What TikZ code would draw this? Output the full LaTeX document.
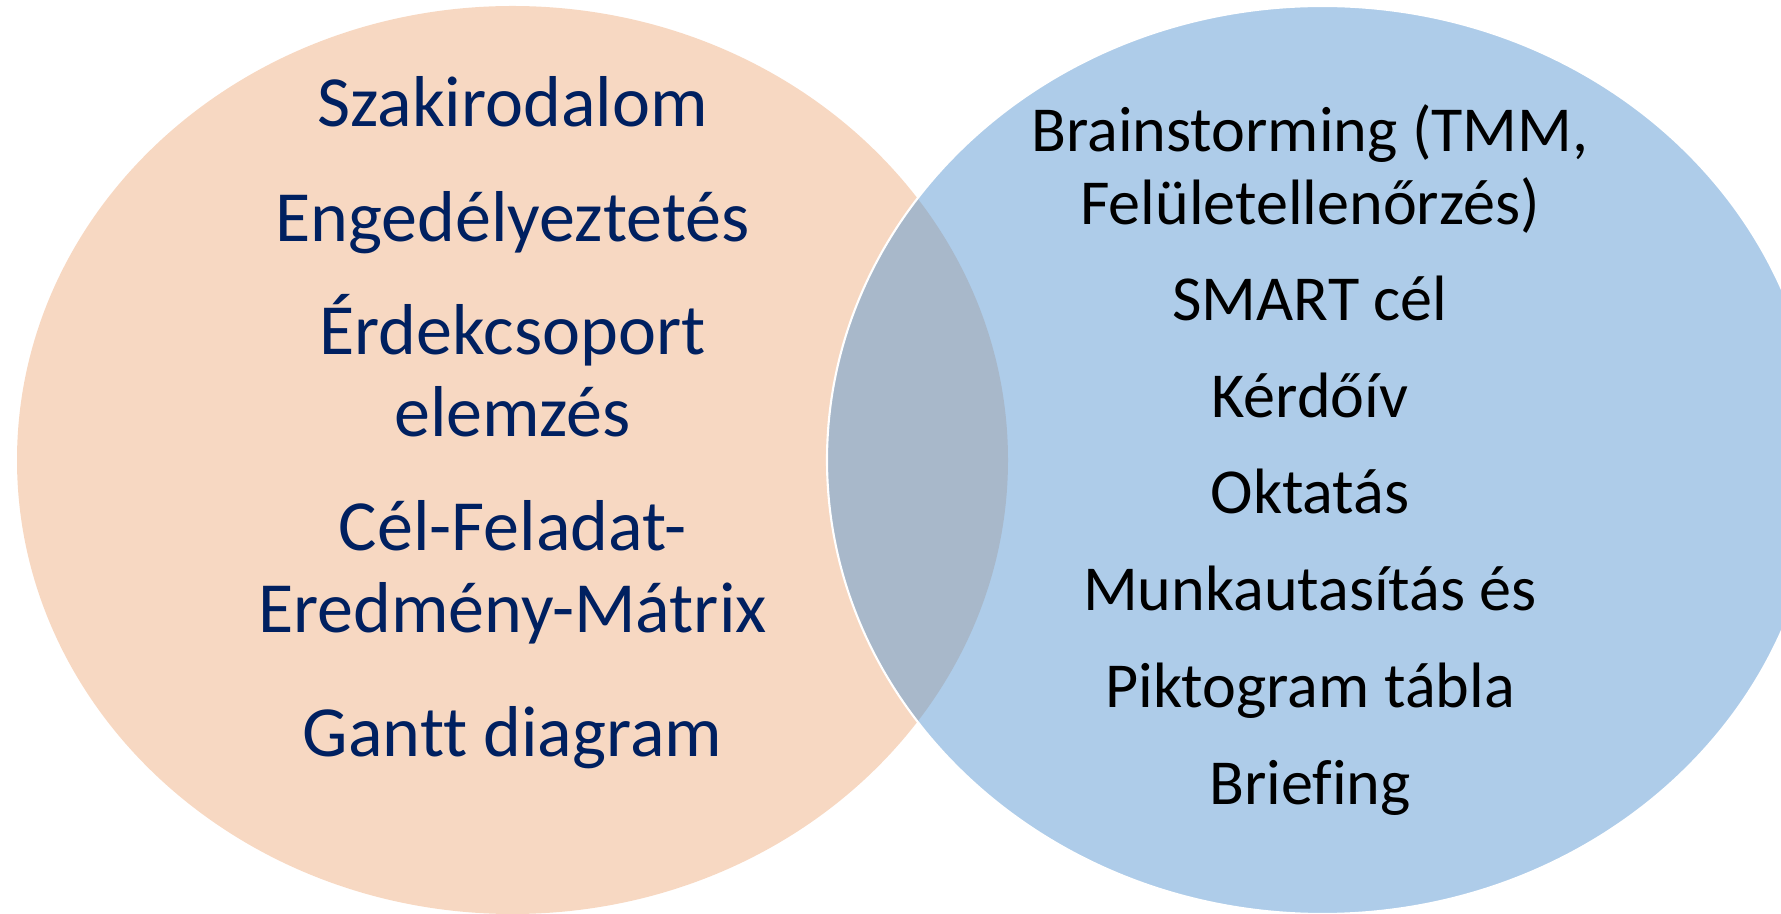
\documentclass[tikz,border=0pt]{standalone}
\usepackage{fontspec}
\setmainfont{Carlito}[Ligatures=NoCommon]
\definecolor{peach}{HTML}{F7D8C2}
\definecolor{skyblue}{HTML}{AECCE9}
\definecolor{lens}{HTML}{A8B8CA}
\definecolor{navy}{HTML}{002060}
\tikzstyle{litem}=[align=center,anchor=base,text=navy,inner sep=0pt,
font=\fontsize{41}{46.7}\selectfont]
\tikzstyle{ritem}=[align=center,anchor=base,text=black,inner sep=0pt,
font=\fontsize{36.5}{42.1}\selectfont]

\begin{document}
\begin{tikzpicture}[x=0.02cm,y=0.02cm]
            \useasboundingbox (0,0) rectangle (1781,913);

            % SETS

            \fill[peach] (512.5,453) ellipse [x radius=495.5, y radius=454];
            \fill[skyblue] (1322.5,453) ellipse [x radius=495.5, y radius=454];
            \begin{scope}
              \clip (512.5,453) ellipse [x radius=495.5, y radius=454];
              \fill[lens] (1322.5,453) ellipse [x radius=495.5, y radius=454];
            \end{scope}
            \draw[white,line width=1.2pt] (1322.5,453) ellipse [x radius=495.5, y radius=454];

            % LEFT PART (base = last line)

            \node[litem] (szak) at (512.5,786) {Szakirodalom};
            \node[litem] (engedely) at (512.5,671) {Engedélyeztetés};
            \node[litem] (erdek) at (512.5,476) {Érdekcsoport\\elemzés};
            \node[litem] (cfem) at (512.5,280) {Cél-Feladat-\\Eredmény-Mátrix};
            \node[litem] (gantt) at (512.5,156) {Gantt diagram};

            % RIGHT PART

            \node[ritem] (brain) at (1310,688) {Brainstorming (TMM,\\Felületellenőrzés)};
            \node[ritem] (smart) at (1310,592) {SMART cél};
            \node[ritem] (kerdoiv) at (1310,495) {Kérdőív};
            \node[ritem] (oktatas) at (1310,399) {Oktatás};
            \node[ritem] (munka) at (1310,302) {Munkautasítás és};
            \node[ritem] (pikto) at (1310,205) {Piktogram tábla};
            \node[ritem] (brief) at (1310,109) {Briefing};

        \end{tikzpicture}
\end{document}
